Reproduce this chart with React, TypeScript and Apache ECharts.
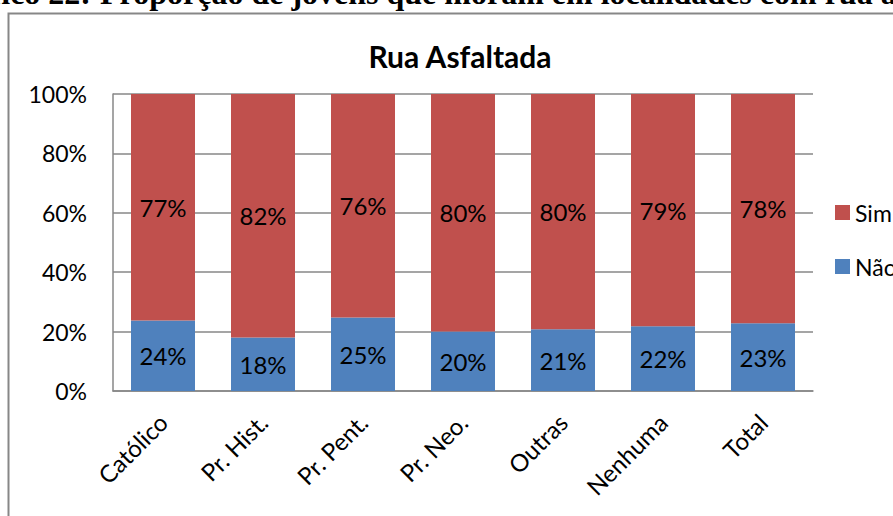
import React, { useEffect, useRef } from "react";
import * as echarts from "echarts";

const categories = ["Católico", "Pr. Hist.", "Pr. Pent.", "Pr. Neo.", "Outras", "Nenhuma", "Total"];
const simValues = [77, 82, 76, 80, 80, 79, 78];
const naoValues = [24, 18, 25, 20, 21, 22, 23];
const yTicks = [0, 20, 40, 60, 80, 100];

const FONT = "Lato, 'Open Sans', sans-serif";

export default function App() {
  const ref = useRef<HTMLDivElement>(null);

  useEffect(() => {
    if (!ref.current) return;
    const chart = echarts.init(ref.current, undefined, { renderer: "svg" });
    const totals = simValues.map((s, i) => s + naoValues[i]);
    const simNorm = simValues.map((s, i) => (s / totals[i]) * 100);
    const naoNorm = naoValues.map((n, i) => (n / totals[i]) * 100);

    chart.setOption({
      animation: false,
      backgroundColor: "#ffffff",
      textStyle: { fontFamily: FONT },
      title: {
        text: "Rua Asfaltada",
        left: 455,
        top: 36,
        textAlign: "center",
        textStyle: { fontFamily: FONT, fontWeight: "bold", fontSize: 30, color: "#000" },
      },
      graphic: [
        {
          type: "rect",
          z: -10,
          shape: { x: 8.5, y: 13.5, width: 1000, height: 1000 },
          style: { fill: "none", stroke: "#878787", lineWidth: 2 },
        },
        {
          type: "text",
          x: 91,
          y: -7,
          style: {
            text: "Gráfico 22:",
            font: "bold 32px 'Liberation Serif', serif",
            fill: "#000",
            align: "right",
            verticalAlign: "middle",
          },
        },
        {
          type: "text",
          x: 100,
          y: -7,
          style: {
            text: "Proporção de jovens que moram em localidades com rua asfaltada",
            font: "bold 32px 'Liberation Serif', serif",
            fill: "#000",
            align: "left",
            verticalAlign: "middle",
          },
        },
      ],
      legend: {
        orient: "vertical",
        left: 830,
        top: 196,
        itemWidth: 15,
        itemHeight: 15,
        itemGap: 31,
        icon: "rect",
        data: ["Sim", "Não"],
        textStyle: { fontFamily: FONT, fontSize: 23, color: "#000" },
      },
      grid: { left: 113, top: 94, right: 80, bottom: 125, containLabel: false },
      xAxis: {
        type: "category",
        data: categories,
        axisLine: { lineStyle: { color: "#878787", width: 1.5 } },
        axisTick: { show: false },
        axisLabel: { rotate: 45, fontSize: 24, color: "#000", fontFamily: FONT, margin: 27, interval: 0 },
      },
      yAxis: {
        type: "value",
        min: yTicks[0],
        max: yTicks[yTicks.length - 1],
        interval: 20,
        axisLine: { show: true, lineStyle: { color: "#878787", width: 1.5 } },
        axisTick: { show: false },
        splitLine: { lineStyle: { color: "#878787", width: 1.5 } },
        axisLabel: { formatter: "{value}%", fontSize: 23, color: "#000", fontFamily: FONT, margin: 26 },
      },
      series: [
        {
          name: "Não",
          type: "bar",
          stack: "total",
          barWidth: "64%",
          data: naoNorm,
          itemStyle: { color: "#4F81BD" },
          label: {
            show: true,
            position: "inside",
            fontSize: 24,
            color: "#000",
            fontFamily: FONT,
            formatter: (p: any) => `${naoValues[p.dataIndex]}%`,
          },
        },
        {
          name: "Sim",
          type: "bar",
          stack: "total",
          barWidth: "64%",
          data: simNorm,
          itemStyle: { color: "#C0504D" },
          label: {
            show: true,
            position: "inside",
            fontSize: 24,
            color: "#000",
            fontFamily: FONT,
            formatter: (p: any) => `${simValues[p.dataIndex]}%`,
          },
        },
      ],
    });
    return () => chart.dispose();
  }, []);

  return (
    <div style={{ position: "fixed", left: 0, top: 0, width: 893, height: 516, overflow: "hidden" }}>
      <div ref={ref} style={{ width: 893, height: 516 }} />
    </div>
  );
}
